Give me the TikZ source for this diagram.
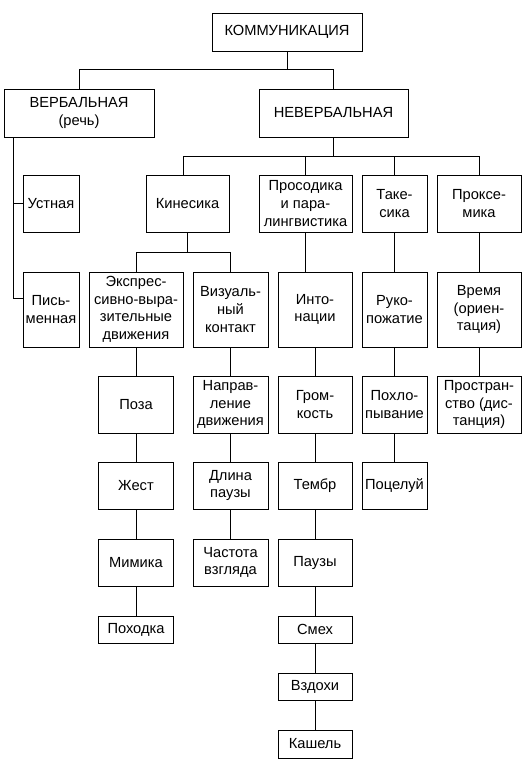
\documentclass[tikz,border=0pt]{standalone}
\usepackage{fontspec}
\setmainfont{Liberation Sans}

\begin{document}
\begin{tikzpicture}[x=0.75pt, y=-0.75pt, line width=0.7pt,
    blk/.style={draw, rectangle, align=center, inner sep=1pt, font=\fontsize{11}{13.2}\selectfont}]
    \useasboundingbox (0,0) rectangle (531,760);

    % Nodes
    \node[blk, minimum width=112.5pt, minimum height=28.5pt] (komm) at (287,32) {КОММУНИКАЦИЯ};
    \node[blk, minimum width=112.5pt, minimum height=36pt] (verb) at (79,113) {ВЕРБАЛЬНАЯ\\(речь)};
    \node[blk, minimum width=111.75pt, minimum height=36pt] (neverb) at (333.5,113) {НЕВЕРБАЛЬНАЯ};

    \node[blk, minimum width=42pt, minimum height=42.75pt] (ustn) at (51,203.5) {Устная};
    \node[blk, minimum width=42pt, minimum height=56.25pt] (pism) at (51,309.5) {Пись-\\менная};

    \node[blk, minimum width=62.25pt, minimum height=42.75pt] (kines) at (187.5,203.5) {Кинесика};
    \node[blk, minimum width=69.75pt, minimum height=42.75pt] (pros) at (305.5,203.5) {Просодика\\и пара-\\лингвистика};
    \node[blk, minimum width=48.75pt, minimum height=42.75pt] (takes) at (394.5,203.5) {Таке-\\сика};
    \node[blk, minimum width=63pt, minimum height=42.75pt] (proks) at (479,203.5) {Проксе-\\мика};

    \node[blk, minimum width=70.5pt, minimum height=56.25pt] (ekspr) at (136,309.5) {Экспрес-\\сивно-выра-\\зительные\\движения};
    \node[blk, minimum width=56.25pt, minimum height=56.25pt] (vizual) at (230.5,309.5) {Визуаль-\\ный\\контакт};
    \node[blk, minimum width=55.5pt, minimum height=56.25pt] (inton) at (315,309.5) {Инто-\\нации};
    \node[blk, minimum width=48.75pt, minimum height=56.25pt] (ruko) at (394.5,309.5) {Руко-\\пожатие};
    \node[blk, minimum width=63pt, minimum height=56.25pt] (vremya) at (479,309.5) {Время\\(ориен-\\тация)};

    \node[blk, minimum width=56.25pt, minimum height=42.75pt] (poza) at (136,404.5) {Поза};
    \node[blk, minimum width=56.25pt, minimum height=42.75pt] (napr) at (230.5,404.5) {Направ-\\ление\\движения};
    \node[blk, minimum width=55.5pt, minimum height=42.75pt] (grom) at (315,404.5) {Гром-\\кость};
    \node[blk, minimum width=48.75pt, minimum height=42.75pt] (pohl) at (394.5,404.5) {Похло-\\пывание};
    \node[blk, minimum width=63pt, minimum height=42.75pt] (prostr) at (479,404.5) {Простран-\\ство (дис-\\танция)};

    \node[blk, minimum width=56.25pt, minimum height=35.25pt] (zhest) at (136,485.5) {Жест};
    \node[blk, minimum width=56.25pt, minimum height=35.25pt] (dlina) at (230.5,485.5) {Длина\\паузы};
    \node[blk, minimum width=55.5pt, minimum height=35.25pt] (tembr) at (315,485.5) {Тембр};
    \node[blk, minimum width=48.75pt, minimum height=35.25pt] (poceluy) at (394.5,485.5) {Поцелуй};

    \node[blk, minimum width=56.25pt, minimum height=35.25pt] (mimika) at (136,562.5) {Мимика};
    \node[blk, minimum width=56.25pt, minimum height=35.25pt] (chastota) at (230.5,562.5) {Частота\\взгляда};
    \node[blk, minimum width=55.5pt, minimum height=35.25pt] (pauzy) at (315,562.5) {Паузы};

    \node[blk, minimum width=56.25pt, minimum height=20.25pt] (pohodka) at (136,629.5) {Походка};
    \node[blk, minimum width=55.5pt, minimum height=20.25pt] (smeh) at (315,629.5) {Смех};
    \node[blk, minimum width=55.5pt, minimum height=20.25pt] (vzdohi) at (315,686.5) {Вздохи};
    \node[blk, minimum width=55.5pt, minimum height=21pt] (kashel) at (315,744) {Кашель};

    % Lines
    \draw (komm.south) -- ++(0,18) coordinate (k1);
    \draw (verb.north) |- (k1) -| (neverb.north);

    \coordinate (v1) at ([xshift=7.5pt]verb.south west);
    \draw (v1) |- ([yshift=8.6pt]pism.west);
    \draw (ustn.west) -- (ustn.west -| v1);

    \draw (neverb.south) -- ++(0,19) coordinate (n1);
    \draw ([xshift=-3.4pt]kines.north) |- (n1) -| (proks.north);
    \draw (pros.north) |- (n1);
    \draw (takes.north) |- (n1);

    \draw (kines.south) -- ++(0,20) coordinate (k2);
    \draw (ekspr.north) |- (k2) -| (vizual.north);

    \draw (ekspr) -- (poza) -- (zhest) -- (mimika) -- (pohodka);
    \draw (vizual) -- (napr) -- (dlina) -- (chastota);
    \draw (pros.south) -- (pros.south |- inton.north);
    \draw (inton) -- (grom) -- (tembr) -- (pauzy) -- (smeh) -- (vzdohi) -- (kashel);
    \draw (takes) -- (ruko) -- (pohl) -- (poceluy);
    \draw (proks) -- (vremya) -- (prostr);
\end{tikzpicture}
\end{document}
